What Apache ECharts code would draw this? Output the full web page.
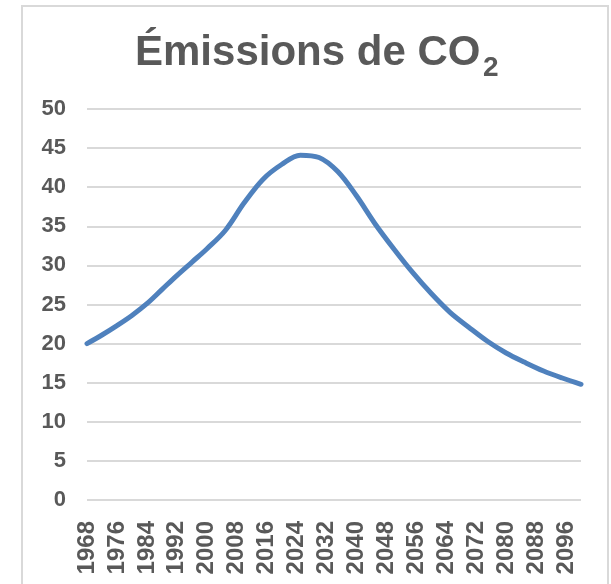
<!DOCTYPE html>
<html>
<head>
<meta charset="utf-8">
<title>Émissions de CO2</title>
<script src="https://cdn.jsdelivr.net/npm/echarts@6/dist/echarts.min.js"></script>
<style>
  html, body { margin: 0; padding: 0; background: #fff; }
  #chart { width: 611px; height: 584px; }
</style>
</head>
<body>
<div id="chart"></div>
<script>
  // years and values
  const years = [1968, 1972, 1976, 1980, 1984, 1988, 1992, 1996, 2000, 2005,
    2010, 2015, 2020, 2025, 2030, 2035, 2040, 2045, 2050, 2055,
    2060, 2065, 2070, 2075, 2080, 2085, 2090, 2095, 2100];
  const emissions = [20.0, 21.1, 22.3, 23.6, 25.1, 26.9, 28.7, 30.4, 32.1, 34.5,
    38.0, 41.0, 42.9, 44.1, 43.8, 42.0, 38.9, 35.3, 32.1, 29.1,
    26.4, 24.0, 22.1, 20.3, 18.8, 17.6, 16.5, 15.6, 14.8];
  const yTicks = [0, 5, 10, 15, 20, 25, 30, 35, 40, 45, 50];

  const grey = '#595959';
  const font = '"Liberation Sans", Arial, sans-serif';
  const chart = echarts.init(document.getElementById('chart'));

  chart.setOption({
    animation: false,
    graphic: [
      {
        type: 'rect',
        shape: { x: 22, y: 6, width: 586, height: 620 },
        style: { fill: 'none', stroke: '#d9d9d9', lineWidth: 2 },
        silent: true
      },
      // title, with CO2 subscript
      {
        type: 'text',
        x: 135, y: 53,
        style: { text: 'Émissions de CO', font: 'bold 42px ' + font, fill: grey, align: 'left', verticalAlign: 'middle' },
        silent: true
      },
      {
        type: 'text',
        x: 483, y: 68,
        style: { text: '2', font: 'bold 28px ' + font, fill: grey, align: 'left', verticalAlign: 'middle' },
        silent: true
      }
    ],
    grid: { left: 87, right: 30, top: 109, bottom: 84 },
    xAxis: {
      type: 'value',
      min: years[0],
      max: years[years.length - 1],
      interval: 8,
      axisLine: { show: false },
      axisTick: { show: false },
      splitLine: { show: false },
      axisLabel: {
        rotate: 90,
        margin: 21,
        showMaxLabel: false,
        color: grey,
        fontWeight: 'bold',
        fontSize: 24,
        fontFamily: font,
        formatter: v => String(v)
      }
    },
    yAxis: {
      type: 'value',
      min: yTicks[0],
      max: yTicks[yTicks.length - 1],
      interval: 5,
      axisLine: { show: false },
      axisTick: { show: false },
      splitLine: { lineStyle: { color: '#d9d9d9', width: 2 } },
      axisLabel: {
        margin: 21,
        color: grey,
        fontWeight: 'bold',
        fontSize: 22,
        fontFamily: font
      }
    },
    series: [{
      type: 'line',
      data: years.map((y, i) => [y, emissions[i]]),
      smooth: 0.35,
      showSymbol: false,
      lineStyle: { color: '#4F81BD', width: 5, cap: 'round' }
    }]
  });
</script>
</body>
</html>
